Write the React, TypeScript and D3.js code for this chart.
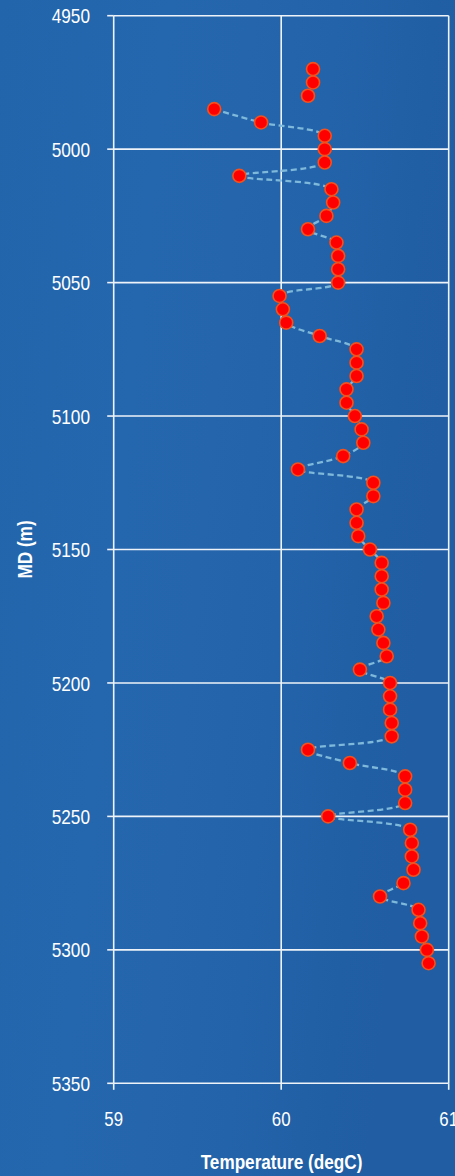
import React from "react";
import * as d3 from "d3";

const W = 455;
const H = 1176;

const depths = [
  4970, 4975, 4980, 4985, 4990, 4995, 5000, 5005, 5010, 5015, 5020, 5025, 5030, 5035, 5040, 5045, 5050,
  5055, 5060, 5065, 5070, 5075, 5080, 5085, 5090, 5095, 5100, 5105, 5110, 5115, 5120, 5125, 5130, 5135,
  5140, 5145, 5150, 5155, 5160, 5165, 5170, 5175, 5180, 5185, 5190, 5195, 5200, 5205, 5210, 5215, 5220,
  5225, 5230, 5235, 5240, 5245, 5250, 5255, 5260, 5265, 5270, 5275, 5280, 5285, 5290, 5295, 5300, 5305,
];

const temps = [
  60.19, 60.19, 60.16, 59.6, 59.88, 60.26, 60.26, 60.26, 59.75, 60.3, 60.31, 60.27, 60.16, 60.33, 60.34, 60.34, 60.34,
  59.99, 60.01, 60.03, 60.23, 60.45, 60.45, 60.45, 60.39, 60.39, 60.44, 60.48, 60.49, 60.37, 60.1, 60.55, 60.55, 60.45,
  60.45, 60.46, 60.53, 60.6, 60.6, 60.6, 60.61, 60.57, 60.58, 60.61, 60.63, 60.47, 60.65, 60.65, 60.65, 60.66, 60.66,
  60.16, 60.41, 60.74, 60.74, 60.74, 60.28, 60.77, 60.78, 60.78, 60.79, 60.73, 60.59, 60.82, 60.83, 60.84, 60.87, 60.88,
];

const lineStartDepth = 4985;

const xTicks = [59, 60, 61];
const yTicks = [4950, 5000, 5050, 5100, 5150, 5200, 5250, 5300, 5350];

const xTitle = "Temperature (degC)";
const yTitle = "MD (m)";

const FONT = "'Liberation Sans', Arial, sans-serif";

export default function App() {
  const x = d3.scaleLinear().domain([59, 61]).range([113.7, 448.7]);
  const y = d3.scaleLinear().domain([4950, 5350]).range([15.7, 1083.3]);

  const pts = depths.map((d, i) => ({ d, t: temps[i] }));
  const linePts = pts.filter((p) => p.d >= lineStartDepth);

  const line = d3
    .line<{ d: number; t: number }>()
    .x((p) => x(p.t))
    .y((p) => y(p.d))
    .curve(d3.curveCatmullRom.alpha(0.5));

  const [x0, x1] = x.range();
  const [y0, y1] = y.range();
  const grid = "#EEF3F9";

  return (
    <svg
      width={W}
      height={H}
      style={{ position: "absolute", left: 0, top: 0, display: "block" }}
      fontFamily={FONT}
    >
      <defs>
        <linearGradient id="bg" x1="0" y1="0" x2="1" y2="0.25">
          <stop offset="0" stopColor="#2365AB" />
          <stop offset="0.35" stopColor="#2567AE" />
          <stop offset="0.7" stopColor="#2363A9" />
          <stop offset="1" stopColor="#205DA2" />
        </linearGradient>
      </defs>
      <rect x={0} y={0} width={W} height={H} fill="url(#bg)" />

      {/* horizontal grid */}
      {yTicks.map((v) => (
        <line key={"gy" + v} x1={x0} x2={x1} y1={y(v)} y2={y(v)} stroke={grid} strokeWidth={1.6} />
      ))}
      {/* vertical grid */}
      {xTicks.map((v) => (
        <line key={"gx" + v} x1={x(v)} x2={x(v)} y1={y0} y2={y1} stroke={grid} strokeWidth={1.6} />
      ))}
      {/* ticks */}
      {yTicks.map((v) => (
        <line key={"ty" + v} x1={x0 - 6.5} x2={x0} y1={y(v)} y2={y(v)} stroke={grid} strokeWidth={1.6} />
      ))}
      {xTicks.map((v) => (
        <line key={"tx" + v} x1={x(v)} x2={x(v)} y1={y1} y2={y1 + 6.5} stroke={grid} strokeWidth={1.6} />
      ))}

      {/* tick labels */}
      {yTicks.map((v) => (
        <text
          key={"ly" + v}
          transform={`translate(90, ${y(v)}) scale(0.82, 1)`}
          dy="0.36em"
          textAnchor="end"
          fill="#FFFFFF"
          fontSize={21}
        >
          {v}
        </text>
      ))}
      {xTicks.map((v) => (
        <text
          key={"lx" + v}
          transform={`translate(${x(v)}, 1126) scale(0.82, 1)`}
          textAnchor="middle"
          fill="#FFFFFF"
          fontSize={20.5}
        >
          {v}
        </text>
      ))}

      {/* axis titles */}
      <text
        transform={`translate(281.5, 1169) scale(0.88, 1)`}
        textAnchor="middle"
        fill="#FFFFFF"
        fontSize={19.5}
        fontWeight="bold"
      >
        {xTitle}
      </text>
      <text
        transform={`translate(32, ${(y0 + y1) / 2}) rotate(-90) scale(0.86, 1)`}
        textAnchor="middle"
        fill="#FFFFFF"
        fontSize={20}
        fontWeight="bold"
      >
        {yTitle}
      </text>

      {/* dashed smooth line */}
      <path
        d={line(linePts) || ""}
        fill="none"
        stroke="#7EB8DA"
        strokeWidth={2.3}
        strokeDasharray="6 3.5"
      />

      {/* markers */}
      {pts.map((p) => (
        <circle
          key={"m" + p.d}
          cx={x(p.t)}
          cy={y(p.d)}
          r={6.5}
          fill="#FF0000"
          stroke="#F4511E"
          strokeWidth={1.6}
        />
      ))}
    </svg>
  );
}
